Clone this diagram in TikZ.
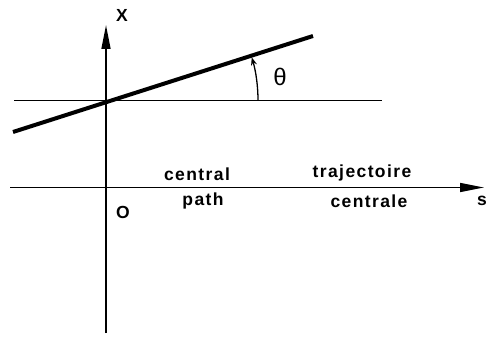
\documentclass[tikz,border=0pt]{standalone}
\usepackage{fontspec}
\setmainfont[LetterSpace=8]{Liberation Sans}
\usetikzlibrary{arrows.meta}
\begin{document}
\begin{tikzpicture}[x=1pt,y=-1pt,
  thinline/.style={line width=1.6pt},
  thickline/.style={line width=4pt},
  axisarrow/.style={-{Triangle[length=24pt,width=9pt]}},
  lbl/.style={inner sep=0pt,font=\fontsize{17.5}{19}\selectfont\bfseries}]
\useasboundingbox (0,0) rectangle (488,337);
\coordinate (O) at (106,187.5);
\coordinate (P) at (106,100.5);
\coordinate (vb) at (106,333);
\coordinate (vt) at (106,25);
\coordinate (hl) at (10,187.5);
\coordinate (hr) at (484,187.5);
\coordinate (refl) at (14,100.5);
\coordinate (refr) at (382,100.5);
\coordinate (tl) at (13,132);
\coordinate (tr) at (313,36);
\coordinate (arcs) at (258,100.5);
\draw[thinline,axisarrow] (vb) -- (vt);
\draw[thinline,axisarrow] (hl) -- (hr);
\draw[thinline] (refl) -- (refr);
\draw[thickline] (tl) -- (tr);
\draw[line width=1.3pt,-{Stealth[length=8pt,width=6pt]}] (arcs) arc[start angle=0,end angle=-16.5,radius=152];
\node[lbl] (X) at (122,15) {X};
\node[lbl] (s) at (482,201) {s};
\node[inner sep=0pt,font=\fontsize{24}{26}\selectfont] (theta) at (280,77) {θ};
\node[lbl] (O0) at (123,212) {O};
\node[lbl] (central) at (197,174) {central};
\node[lbl] (path) at (203,201) {path};
\node[lbl] (traj) at (362,173) {trajectoire};
\node[lbl] (centrale) at (369,201) {centrale};
\end{tikzpicture}
\end{document}
